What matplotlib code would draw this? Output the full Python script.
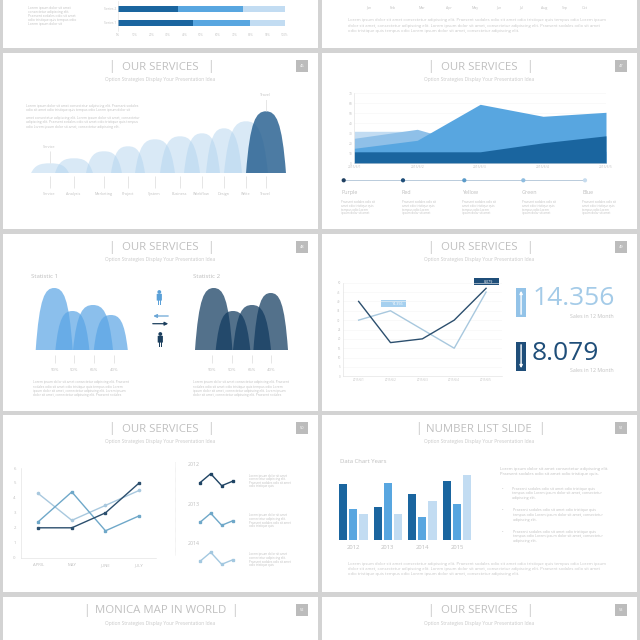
import matplotlib
matplotlib.use("Agg")
import matplotlib.pyplot as plt
from matplotlib.patches import Rectangle, PathPatch, Circle, FancyBboxPatch
from matplotlib.path import Path

plt.rcParams["font.family"] = ["Open Sans", "DejaVu Sans"]

GREY_BG = "#d3d3d3"
TITLE = "#c0c0c0"
SUB = "#c8c8c8"
SMALL = "#c0c0c0"
BLUE_DARK = "#1a659f"
BLUE_MID = "#58a6e0"
BLUE_LIGHT = "#c2dcf2"

# -----------------------------
# Data
# -----------------------------
stack_names = ["Series 2", "Series 1"]
stack_dark = [36, 45]
stack_mid = [39, 34]
stack_light = [25, 21]
stack_ticks = [0, 10, 20, 30, 40, 50, 60, 70, 80, 90, 100]

months = ["Jan", "Feb", "Mar", "Apr", "May", "Jun", "Jul", "Aug", "Sep", "Oct"]

service_names = ["Service", "Analysis", "Marketing", "Project", "System",
                 "Business", "Workflow", "Design", "Write", "Travel"]
service_pos = [50, 74, 104, 128, 155, 180, 202, 224, 246, 266]
service_height = [10, 15, 22, 27, 34, 37, 40, 45, 52, 62]
service_halfw = [19, 19, 18, 17, 20, 20, 18, 18, 22, 20]

area_dates = ["2015/6/1", "2015/6/2", "2015/6/3", "2015/6/4", "2015/6/5"]
area_lightest = [32, 32, 15, 12, 10]
area_light = [25, 34, 16, 14, 12]
area_mid = [15, 23, 59, 47, 51]
area_dark = [11.5, 11.5, 11.5, 20.5, 27.5]

legend_names = ["Purple", "Red", "Yellow", "Green", "Blue"]
legend_colors = ["#1f3f60", "#1f4e79", "#5b9bc9", "#8fbde0", "#c7dcee"]

stat_labels = ["90%", "50%", "65%", "40%"]
stat1_ticks = [55, 74, 94, 114]
stat1_pos = [54.2, 72.4, 93, 110.8]
stat1_height = [62, 39, 45, 35]
stat1_halfw = [18.5, 17, 20, 17]
stat2_ticks = [212, 232, 252, 271]
stat2_pos = [213.7, 233, 252, 270.7]
stat2_height = [62, 39, 45, 57]
stat2_halfw = [18.7, 17.3, 19, 17.3]

sales_dates = ["2015/6/1", "2015/6/2", "2015/6/3", "2015/6/4", "2015/6/5"]
sales_light = [30, 35, 25, 15, 45]
sales_dark = [40, 18, 20, 30, 47]
sales_ticks = [0, 5, 10, 15, 20, 25, 30, 35, 40, 45, 50]

line_months = ["APRIL", "MAY", "JUNE", "JULY"]
line_a = [2.4, 4.4, 1.8, 2.8]
line_b = [4.3, 2.5, 3.5, 4.5]
line_c = [2.0, 2.0, 3.0, 5.0]

spark_years = ["2012", "2013", "2014"]
spark_values = [[2.0, 3.2, 1.6, 2.2], [2.0, 3.2, 1.6, 2.2], [2.0, 3.2, 1.6, 2.2]]
spark_colors = ["#1f4464", "#6fa8c9", "#a3c8e0"]

bar_years = ["2012", "2013", "2014", "2015"]
bar_a = [4.3, 2.5, 3.5, 4.5]
bar_b = [2.4, 4.4, 1.8, 2.8]
bar_c = [2.0, 2.0, 3.0, 5.0]

slides = [
    ("OUR SERVICES", 160.3, 66, 79.3, "46", 111, 210),
    ("OUR SERVICES", 479.3, 66, 79.3, "47", 430, 529),
    ("OUR SERVICES", 160.3, 247, 260, "48", 111, 210),
    ("OUR SERVICES", 479.3, 247, 260, "49", 430, 529),
    ("OUR SERVICES", 160.3, 428, 441.3, "50", 111, 210),
    ("NUMBER LIST SLIDE", 479.3, 428, 441.3, "51", 418, 541),
    ("MONICA MAP IN WORLD", 160.3, 609.7, 623, "52", 86.7, 234.3),
    ("OUR SERVICES", 479.3, 609.7, 623, "53", 430, 529),
]

LOREM = "Lorem ipsum dolor sit amet consectetur adipiscing elit. Praesent sodales odio sit amet odio tristique quis tempus odio"
LOREM2 = "dolor sit amet, consectetur adipiscing elit. Lorem ipsum dolor sit amet, consectetur adipiscing elit. Praesent sodales odio sit amet"
LOREM3 = "odio tristique quis tempus odio Lorem ipsum dolor sit amet, consectetur adipiscing elit."

# -----------------------------
# Figure and slide background
# -----------------------------
fig = plt.figure(figsize=(6.4, 6.4), dpi=100, facecolor=GREY_BG)
bg = fig.add_axes([0, 0, 1, 1])
bg.set_xlim(0, 640)
bg.set_ylim(640, 0)
bg.axis("off")

for left, right in [(3, 317.5), (322, 637)]:
    for top, bottom in [(-5, 48), (53, 229), (234, 411), (415, 592), (597, 645)]:
        bg.add_patch(Rectangle((left, top), right - left, bottom - top,
                               fc="white", ec="none"))


def px_axes(x0, y0, x1, y1):
    ax = fig.add_axes([x0 / 640, 1 - y1 / 640, (x1 - x0) / 640, (y1 - y0) / 640])
    ax.patch.set_alpha(0)
    return ax


def label(x, y, s, size=2.6, color=SMALL, ha="left", **kw):
    bg.text(x, y, s, fontsize=size, color=color, ha=ha, va="center", **kw)


def para(x, y, lines, size=2.6, step=4.2, color=SMALL):
    for i, line in enumerate(lines):
        label(x, y + i * step, line, size=size, color=color)


def bump(ax, c, h, w, color, alpha):
    verts = [(c - w, 0), (c - 0.8 * w, 0.85 * h), (c - 0.5 * w, h), (c, h),
             (c + 0.5 * w, h), (c + 0.8 * w, 0.85 * h), (c + w, 0), (c - w, 0)]
    codes = [Path.MOVETO, Path.CURVE4, Path.CURVE4, Path.CURVE4,
             Path.CURVE4, Path.CURVE4, Path.CURVE4, Path.CLOSEPOLY]
    ax.add_patch(PathPatch(Path(verts, codes), fc=color, ec="none", alpha=alpha))


def person(x, top, color):
    bg.add_patch(Circle((x, top + 2), 1.9, fc=color, ec="none"))
    bg.add_patch(FancyBboxPatch((x - 2.2, top + 4.2), 4.4, 6, boxstyle="round,pad=0.4",
                                fc=color, ec="none"))
    bg.add_patch(Rectangle((x - 1.8, top + 9), 1.5, 6, fc=color, ec="none"))
    bg.add_patch(Rectangle((x + 0.3, top + 9), 1.5, 6, fc=color, ec="none"))


for title, cx, ty, sy, num, sep_l, sep_r in slides:
    bg.text(cx, ty + 1, title, fontsize=8.2, color=TITLE, ha="center", va="center")
    bg.text(sep_l, ty + 0.5, "|", fontsize=8.6, color=TITLE, ha="center", va="center")
    bg.text(sep_r, ty + 0.5, "|", fontsize=8.6, color=TITLE, ha="center", va="center")
    bg.text(cx, sy, "Option Strategies Display Your Presentation Idea", fontsize=3.5,
            color=SUB, ha="center", va="center")
    box_x = 296 if cx < 320 else 615
    bg.add_patch(Rectangle((box_x, ty - 6), 12.3, 12, fc="#bcbcbc", ec="none"))
    bg.text(box_x + 6.1, ty, num, fontsize=2.8, color="white", ha="center", va="center")

# -----------------------------
# Stacked bars (top left)
# -----------------------------
ax = px_axes(118, 1, 284.5, 31)
ypos = [22.5, 8]
left_mid = [d for d in stack_dark]
left_light = [d + m for d, m in zip(stack_dark, stack_mid)]
ax.barh(ypos, stack_dark, height=6, color=BLUE_DARK)
ax.barh(ypos, stack_mid, left=left_mid, height=6, color=BLUE_MID)
ax.barh(ypos, stack_light, left=left_light, height=6, color=BLUE_LIGHT)
ax.set_xlim(0, 100)
ax.set_ylim(0, 30)
ax.set_yticks(ypos)
ax.set_yticklabels(stack_names, fontsize=2.4, color=SMALL)
ax.set_xticks(stack_ticks)
ax.set_xticklabels([f"{t}%" for t in stack_ticks], fontsize=2.2, color=SMALL)
ax.tick_params(length=0, pad=1.2)
for side in ["top", "right", "bottom"]:
    ax.spines[side].set_visible(False)
ax.spines["left"].set_color("#dddddd")
ax.spines["left"].set_linewidth(0.4)
para(28.5, 7.5, ["Lorem ipsum dolor sit amet", "consectetur adipiscing elit.",
                 "Praesent sodales odio sit amet", "odio tristique quis tempus odio",
                 "Lorem ipsum dolor sit"], size=2.4, step=4.1)

# top right month axis and text
ax = px_axes(355, 0, 605, 12)
ax.axis("off")
ax.set_xlim(0, 250)
ax.set_ylim(0, 12)
for xpos, m in zip([14, 38, 67, 94, 120, 144, 166, 189, 210, 230], months):
    ax.text(xpos, 4.4, m, fontsize=2.6, color=SMALL, ha="center", va="center")
para(347.5, 20.5, [LOREM + " Lorem ipsum", LOREM2, LOREM3], size=2.95, step=5.1, color="#c6c6c6")

# -----------------------------
# Services bumps
# -----------------------------
ax = px_axes(25, 100, 290, 173.3)
ax.axis("off")
ax.set_xlim(25, 290)
ax.set_ylim(0, 73.3)
for c, h, w in zip(service_pos[:-1], service_height[:-1], service_halfw[:-1]):
    bump(ax, c, h, w, "#b0d2ee", 0.48)
bump(ax, service_pos[-1], service_height[-1], service_halfw[-1], "#1f5a8c", 0.8)
ax.vlines(service_pos, -15, -3, color="#dcdcdc", lw=0.5, clip_on=False)
for c, h, name in zip(service_pos, service_height, service_names):
    ax.text(c - 0.5, -20.7, name, fontsize=2.7, color=SMALL, ha="center", va="center", clip_on=False)
ax.vlines([service_pos[0], service_pos[-1]],
          [service_height[0], service_height[-1]],
          [service_height[0] + 12, service_height[-1] + 12], color="#dcdcdc", lw=0.5)
ax.text(service_pos[0] - 0.5, 26.3, service_names[0], fontsize=2.7, color=SMALL, ha="center", va="center")
ax.text(service_pos[-1] - 0.5, 78, service_names[-1], fontsize=2.7, color=SMALL, ha="center",
        va="center", clip_on=False)
para(26, 105.7, ["Lorem ipsum dolor sit amet consectetur adipiscing elit. Praesent sodales",
                 "odio sit amet odio tristique quis tempus odio Lorem ipsum dolor sit"], size=2.4)
para(26, 118.3, ["amet consectetur adipiscing elit. Lorem ipsum dolor sit amet, consectetur",
                 "adipiscing elit. Praesent sodales odio sit amet odio tristique quis tempus",
                 "odio Lorem ipsum dolor sit amet, consectetur adipiscing elit."], size=2.4)

# -----------------------------
# Area chart
# -----------------------------
ax = px_axes(354.3, 93.3, 606, 163.3)
xs = list(range(len(area_dates)))
ax.fill_between(xs, area_lightest, color=BLUE_LIGHT, lw=0)
ax.fill_between(xs, area_light, color="#8fc0e8", lw=0)
ax.fill_between(xs, area_mid, color=BLUE_MID, lw=0)
ax.fill_between(xs, area_dark, color=BLUE_DARK, lw=0)
ax.set_xlim(0, 4)
ax.set_ylim(0, 70)
ax.set_xticks(xs)
ax.set_xticklabels(area_dates, fontsize=2.3, color=SMALL)
ax.set_yticks(range(0, 71, 10))
ax.set_yticklabels(range(0, 71, 10), fontsize=2.3, color=SMALL)
ax.tick_params(length=0, pad=1.5)
ax.grid(axis="y", color="#f6f6f6", lw=0.4)
ax.set_axisbelow(True)
for side in ["top", "right"]:
    ax.spines[side].set_visible(False)
for side in ["left", "bottom"]:
    ax.spines[side].set_color("#dddddd")
    ax.spines[side].set_linewidth(0.4)

# legend row under the area chart
legend_x = [343.7, 403, 464.3, 523.3, 585]
legend_text_x = [341.3, 401.7, 461.7, 522, 582.3]
bg.plot(legend_x, [180.3] * 5, color="#b9cbdb", lw=0.7, zorder=2)
for x, color in zip(legend_x, legend_colors):
    bg.add_patch(Circle((x, 180.3), 2.1, fc=color, ec="none", zorder=3))
for x, name in zip(legend_text_x, legend_names):
    label(x, 192.7, name, size=3.9, color="#bdbdbd")
    para(x, 201.7, ["Praesent sodales odio sit", "amet odio tristique quis",
                    "tempus odio Lorem", "ipsum dolor sit amet"], size=2.2, step=3.9)

# -----------------------------
# Statistic bumps
# -----------------------------
ax = px_axes(30, 280, 300, 350)
ax.axis("off")
ax.set_xlim(30, 300)
ax.set_ylim(0, 70)
for c, h, w in zip(stat1_pos, stat1_height, stat1_halfw):
    bump(ax, c, h, w, "#5aa5e5", 0.7)
for c, h, w in zip(stat2_pos, stat2_height, stat2_halfw):
    bump(ax, c, h, w, "#113a5f", 0.72)
ax.vlines(stat1_ticks + stat2_ticks, -13, -5, color="#dcdcdc", lw=0.5, clip_on=False)
for c, s in zip(stat1_ticks + stat2_ticks, stat_labels + stat_labels):
    ax.text(c, -20.3, s, fontsize=3.1, color=SMALL, ha="center", va="center", clip_on=False)
label(30.7, 276, "Statistic 1", size=4.4, color="#bdbdbd")
label(193.3, 276, "Statistic 2", size=4.4, color="#bdbdbd")
for x in [33, 193]:
    para(x, 382.5, ["Lorem ipsum dolor sit amet consectetur adipiscing elit. Praesent",
                    "sodales odio sit amet odio tristique quis tempus odio Lorem",
                    "ipsum dolor sit amet, consectetur adipiscing elit. Lorem ipsum",
                    "dolor sit amet, consectetur adipiscing elit. Praesent sodales"], size=2.35, step=4.1)
person(159.3, 290, "#5aa0d8")
person(160.3, 332, "#1c3f5e")
bg.annotate("", xy=(150.5, 316), xytext=(171, 316),
            arrowprops=dict(arrowstyle="-|>", color="#6ba6d6", lw=0.9, mutation_scale=5))
bg.annotate("", xy=(171, 323.7), xytext=(150, 323.7),
            arrowprops=dict(arrowstyle="-|>", color="#1c3f5e", lw=0.9, mutation_scale=5))

# -----------------------------
# Sales line chart
# -----------------------------
ax = px_axes(342.7, 282.7, 502, 376.3)
xs = [0.5, 1.5, 2.5, 3.5, 4.5]
ax.plot(xs, sales_light, color="#a8c8de", lw=1.0)
ax.plot(xs, sales_dark, color="#2c4f6e", lw=1.0)
ax.set_xlim(0, 5)
ax.set_ylim(0, 50)
ax.set_xticks(xs)
ax.set_xticklabels(sales_dates, fontsize=2.1, color=SMALL)
ax.set_yticks(sales_ticks)
ax.set_yticklabels(sales_ticks, fontsize=2.1, color=SMALL)
ax.tick_params(length=0, pad=1.5)
ax.grid(axis="y", color="#f6f6f6", lw=0.4)
for side in ["top", "right"]:
    ax.spines[side].set_visible(False)
for side in ["left", "bottom"]:
    ax.spines[side].set_color("#dddddd")
    ax.spines[side].set_linewidth(0.4)
bg.add_patch(Rectangle((381.3, 300.3), 24.7, 7, fc="#a6d0ef", ec="none", zorder=5))
bg.text(397, 303.8, "14.356", fontsize=2.6, color="white", ha="center", va="center", zorder=6)
bg.add_patch(Rectangle((474.3, 278.3), 25, 7, fc="#1f4e79", ec="none", zorder=5))
bg.text(488, 281.8, "8.079", fontsize=2.6, color="white", ha="center", va="center", zorder=6)

bg.add_patch(Rectangle((516.3, 287.7), 9.7, 29.6, fc="#93c3e8", ec="none"))
bg.annotate("", xy=(521.1, 288), xytext=(521.1, 317),
            arrowprops=dict(arrowstyle="-|>", color="white", lw=1.0, mutation_scale=4))
bg.add_patch(Rectangle((516.3, 342.3), 9.7, 29, fc="#1f4e79", ec="none"))
bg.annotate("", xy=(521.1, 371), xytext=(521.1, 342),
            arrowprops=dict(arrowstyle="-|>", color="white", lw=1.0, mutation_scale=4))
bg.text(532.5, 298.7, "14.356", fontsize=19, color="#a4cbe8", ha="left", va="center")
bg.text(531.5, 353, "8.079", fontsize=19, color="#1f4e79", ha="left", va="center")
label(614, 317, "Sales in 12 Month", size=3.8, color="#c0c0c0", ha="right")
label(614, 371, "Sales in 12 Month", size=3.8, color="#c0c0c0", ha="right")

# -----------------------------
# Monthly line chart
# -----------------------------
ax = px_axes(21.3, 468, 156, 557.7)
xs = [0.5, 1.5, 2.5, 3.5]
ax.plot(xs, line_b, color="#a8c8de", lw=1.0, marker="o", ms=1.6)
ax.plot(xs, line_a, color="#6fa8c9", lw=1.0, marker="s", ms=1.8)
ax.plot(xs, line_c, color="#2c4f6e", lw=1.0, marker="s", ms=1.5, clip_on=False)
ax.set_xlim(0, 4)
ax.set_ylim(0, 6)
ax.set_xticks(xs)
ax.set_xticklabels(line_months, fontsize=3.1, color=SMALL)
ax.set_yticks(range(7))
ax.set_yticklabels(range(7), fontsize=3.1, color=SMALL)
ax.tick_params(length=0, pad=4)
for side in ["top", "right"]:
    ax.spines[side].set_visible(False)
for side in ["left", "bottom"]:
    ax.spines[side].set_color("#dddddd")
    ax.spines[side].set_linewidth(0.4)
bg.plot([175.3, 175.3], [462, 555], color="#d8d8d8", lw=0.4, ls=(0, (1, 1)))

# small yearly sparklines
spark_base = [497.7, 537.3, 576.3]
spark_label_y = [464.7, 504, 543.3]
para_y = [475.7, 515.3, 554.5]
for vals, base, color, year, ly, py in zip(spark_values, spark_base, spark_colors,
                                           spark_years, spark_label_y, para_y):
    ax = px_axes(195, base - 30, 238, base)
    ax.axis("off")
    ax.plot([200, 210.7, 221.7, 232.7], vals, color=color, lw=1.0, marker="s", ms=1.8)
    ax.set_xlim(195, 238)
    ax.set_ylim(0, 4)
    label(187.7, ly, year, size=3.8, color="#bdbdbd")
    para(249.3, py, ["Lorem ipsum dolor sit amet", "consectetur adipiscing elit.",
                     "Praesent sodales odio sit amet", "odio tristique quis"], size=2.2, step=3.6)

# -----------------------------
# Grouped bars
# -----------------------------
ax = px_axes(339, 475, 474, 540.3)
group_x = [0, 1, 2, 3]
pitch = 10.17 / 34.55
width = 8.17 / 34.55
ax.bar([g + 0 * pitch for g in group_x], bar_a, width=width, color=BLUE_DARK)
ax.bar([g + 1 * pitch for g in group_x], bar_b, width=width, color=BLUE_MID)
ax.bar([g + 2 * pitch for g in group_x], bar_c, width=width, color=BLUE_LIGHT)
ax.set_xlim(-width / 2, -width / 2 + 135 / 34.55)
ax.set_ylim(0, 65.3 / 13.13)
ax.set_xticks([g + 1 * pitch for g in group_x])
ax.set_xticklabels(bar_years, fontsize=4.2, color="#bdbdbd")
ax.set_yticks([])
ax.tick_params(length=0, pad=3.5)
for side in ["top", "right", "left", "bottom"]:
    ax.spines[side].set_visible(False)
label(340, 461.7, "Data Chart Years", size=4.3, color="#bdbdbd")

para(500, 468.7, ["Lorem ipsum dolor sit amet consectetur adipiscing elit.",
                  "Praesent sodales odio sit amet odio tristique quis."], size=3.05, step=5)
for y, off in zip([488.7, 510.3, 531.7], [512, 513, 513]):
    label(502, y, "•", size=3, color=SMALL)
    para(off, y, ["Praesent sodales odio sit amet odio tristique quis",
                  "tempus odio Lorem ipsum dolor sit amet, consectetur",
                  "adipiscing elit."], size=2.6, step=4.7)
para(347.5, 563.7, [LOREM + " Lorem ipsum", LOREM2, LOREM3], size=2.95, step=5.1, color="#c6c6c6")

fig.savefig("out.png", dpi=100, facecolor=fig.get_facecolor())
